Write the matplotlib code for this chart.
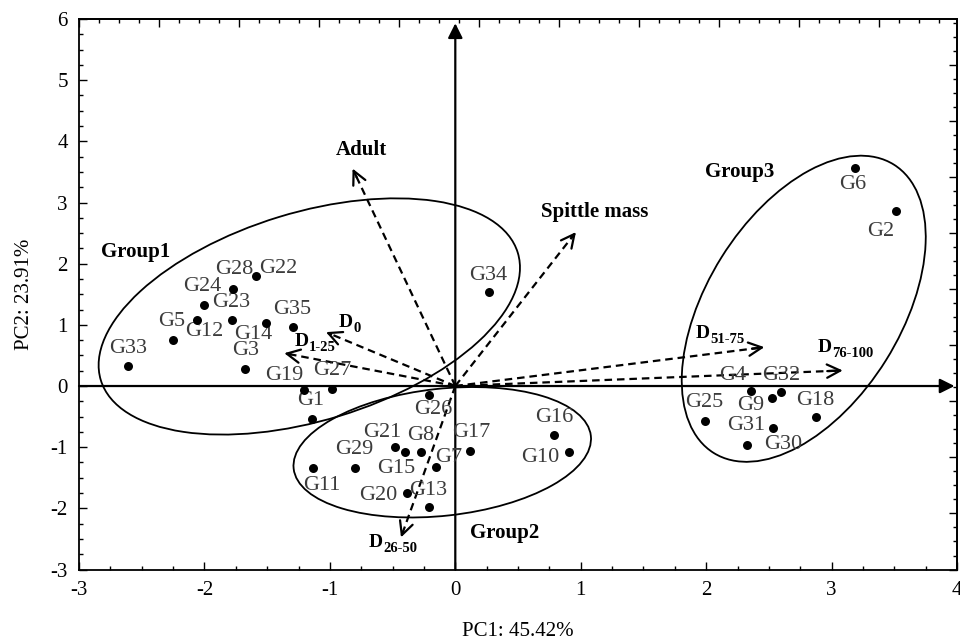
import matplotlib
matplotlib.use('Agg')
import matplotlib.pyplot as plt
import numpy as np
from matplotlib.patches import Ellipse
from matplotlib.transforms import ScaledTranslation
from matplotlib.ticker import MultipleLocator, NullFormatter

plt.rcParams['font.family'] = ['Liberation Serif', 'DejaVu Serif']
plt.rcParams['axes.unicode_minus'] = False

# genotype scores
genotypes = ['G1', 'G2', 'G3', 'G4', 'G5', 'G6', 'G7', 'G8', 'G9', 'G10',
             'G11', 'G12', 'G13', 'G14', 'G15', 'G16', 'G17', 'G18', 'G19', 'G20',
             'G21', 'G22', 'G23', 'G24', 'G25', 'G26', 'G27', 'G28', 'G29', 'G30',
             'G31', 'G32', 'G33', 'G34', 'G35']
pc1 = [-1.143, 3.514, -1.675, 2.358, -2.254, 3.190, -0.154, -0.274, 2.522, 0.903,
       -1.132, -2.063, -0.207, -1.510, -0.401, 0.789, 0.117, 2.876, -1.210, -0.386,
       -0.478, -1.585, -1.781, -2.007, 1.994, -0.207, -0.983, -1.770, -0.797, 2.326,
       2.536, 2.597, -2.608, 0.266, -1.297]
pc2 = [-0.537, 2.856, 0.282, -0.074, 0.756, 3.565, -1.318, -1.083, -0.193, -1.083,
       -1.339, 1.083, -1.984, 1.028, -1.083, -0.794, -1.056, -0.511, -0.062, -1.754,
       -0.990, 1.797, 1.072, 1.329, -0.565, -0.139, -0.046, 1.591, -1.339, -0.962,
       -0.684, -0.101, 0.324, 1.535, 0.962]

# variable loadings (arrow tips)
variables = ['Adult', 'Spittle mass', 'D0', 'D1-25', 'D26-50', 'D51-75', 'D76-100']
load1 = [-0.819, 0.962, -1.031, -1.364, -0.433, 2.464, 3.089]
load2 = [3.555, 2.517, 0.881, 0.537, -2.475, 0.635, 0.254]

groups = ['Group1', 'Group2', 'Group3']
group_x = [-2.546, 0.391, 2.265]
group_y = [2.19, -2.409, 3.499]

DPI = 100

# label offsets from the point, in pixels (right, up)
g_off = {
    'G1': (-1, 18), 'G2': (-15, -20), 'G3': (0, 18), 'G4': (-18, 15), 'G5': (-1, 18),
    'G6': (-3, -17), 'G7': (13, 9), 'G8': (0, 17), 'G9': (-21, -8), 'G10': (-28, -5),
    'G11': (8, -18), 'G12': (8, -12), 'G13': (-1, 17), 'G14': (-13, -11), 'G15': (-9, -16),
    'G16': (0, 17), 'G17': (1, 18), 'G18': (-1, 17), 'G19': (-19, 14), 'G20': (-29, -2),
    'G21': (-13, 14), 'G22': (22, 8), 'G23': (-1, 18), 'G24': (-1, 18), 'G25': (-1, 18),
    'G26': (4, -15), 'G27': (0, 18), 'G28': (1, 19), 'G29': (-1, 18), 'G30': (36, 0),
    'G31': (-27, 2), 'G32': (0, 17), 'G33': (0, 18), 'G34': (0, 17), 'G35': (0, 18),
}
v_off = {
    'Adult': (9, 19), 'Spittle mass': (19, 20), 'D0': (20, 10), 'D1-25': (17, 12),
    'D26-50': (-25, -5), 'D51-75': (-62, 14), 'D76-100': (-18, 23),
}

# ellipses: centre in data, semi axes in pixels, angle in degrees
ell_cx = [-1.164, -0.104, 2.778]
ell_cy = [1.137, -1.083, 1.263]
ell_a = [218, 149.5, 170]
ell_b = [104, 63.5, 97]
ell_ang = [17, 6.3, 58]

fig = plt.figure(figsize=(960 / DPI, 642 / DPI), dpi=DPI)
ax = fig.add_axes([0.0823, 0.1129, 0.9146, 0.8575])
ax.set_xlim(-3, 4)
ax.set_ylim(-3, 6)

px2pt = 72.0 / DPI

# axis lines with arrows
ax.annotate('', xy=(3.98, 0), xytext=(-3, 0),
            arrowprops=dict(arrowstyle='-|>', lw=1.6, color='black',
                            mutation_scale=22, shrinkA=0, shrinkB=0), zorder=2)
ax.annotate('', xy=(0, 5.93), xytext=(0, -3),
            arrowprops=dict(arrowstyle='-|>', lw=1.6, color='black',
                            mutation_scale=22, shrinkA=0, shrinkB=0), zorder=2)

# loadings
for name, lx, ly in zip(variables, load1, load2):
    ax.plot([0, lx * 0.985], [0, ly * 0.985], ls=(0, (3.4, 2.2)), color='black', lw=1.6, zorder=3)
    ax.annotate('', xy=(lx, ly), xytext=(lx * 0.96, ly * 0.96),
                arrowprops=dict(arrowstyle='->', lw=1.6, color='black',
                                mutation_scale=24, shrinkA=0, shrinkB=0), zorder=3)
    dx, dy = v_off[name]
    if name.startswith('D'):
        t = ax.annotate('D', xy=(lx, ly), xytext=(dx * px2pt, dy * px2pt),
                        textcoords='offset points', ha='center', va='center',
                        fontsize=14, fontweight='bold', zorder=5)
        ax.annotate(name[1:], xy=(1, 0), xycoords=t, xytext=(0.5, -3),
                    textcoords='offset points', ha='left', va='bottom',
                    fontsize=10.5, fontweight='bold', zorder=5)
    else:
        ax.annotate(name, xy=(lx, ly), xytext=(dx * px2pt, dy * px2pt),
                    textcoords='offset points', ha='center', va='center',
                    fontsize=15, fontweight='bold', zorder=5)

# group ellipses
for cx, cy, a, b, ang in zip(ell_cx, ell_cy, ell_a, ell_b, ell_ang):
    tr = fig.dpi_scale_trans + ScaledTranslation(cx, cy, ax.transData)
    e = Ellipse((0, 0), 2 * a / DPI, 2 * b / DPI, angle=ang, fill=False,
                edgecolor='black', lw=1.3, transform=tr, zorder=2)
    ax.add_patch(e)

for name, gx, gy in zip(groups, group_x, group_y):
    ax.text(gx, gy, name, ha='center', va='center', fontsize=15, fontweight='bold')

# genotype points
ax.scatter(pc1, pc2, s=42, color='black', zorder=6, linewidths=0)
for name, x, y in zip(genotypes, pc1, pc2):
    dx, dy = g_off[name]
    ax.annotate(name, xy=(x, y), xytext=(dx * px2pt, dy * px2pt),
                textcoords='offset points', ha='center', va='center',
                fontsize=16, color='#3c3c3c', zorder=4)

# ticks
ax.xaxis.set_major_locator(MultipleLocator(1))
ax.xaxis.set_minor_locator(MultipleLocator(0.25))
ax.yaxis.set_major_locator(MultipleLocator(1))
ax.yaxis.set_minor_locator(MultipleLocator(0.25))
ax.tick_params(which='both', direction='in', top=False, right=False, labelsize=15, width=1)
ax.tick_params(which='major', length=6, pad=8)
ax.tick_params(which='minor', length=3)

top = ax.secondary_xaxis('top', functions=(lambda x: (x + 3) / 0.638, lambda u: u * 0.638 - 3))
top.xaxis.set_major_locator(MultipleLocator(1))
top.xaxis.set_minor_locator(MultipleLocator(0.25))
top.xaxis.set_major_formatter(NullFormatter())
top.tick_params(which='both', direction='in', width=1)
top.tick_params(which='major', length=6)
top.tick_params(which='minor', length=3)

right = ax.secondary_yaxis('right', functions=(lambda y: (y + 3) / 0.9165, lambda u: u * 0.9165 - 3))
right.yaxis.set_major_locator(MultipleLocator(1))
right.yaxis.set_minor_locator(MultipleLocator(0.25))
right.yaxis.set_major_formatter(NullFormatter())
right.tick_params(which='both', direction='in', width=1)
right.tick_params(which='major', length=6)
right.tick_params(which='minor', length=3)

for sp in ax.spines.values():
    sp.set_linewidth(1.3)
top.spines['top'].set_linewidth(1.3)
right.spines['right'].set_linewidth(1.3)

ax.set_xlabel('PC1: 45.42%', fontsize=15, labelpad=16)
ax.set_ylabel('PC2: 23.91%', fontsize=15, labelpad=12)

plt.savefig('out.png', dpi=DPI)
